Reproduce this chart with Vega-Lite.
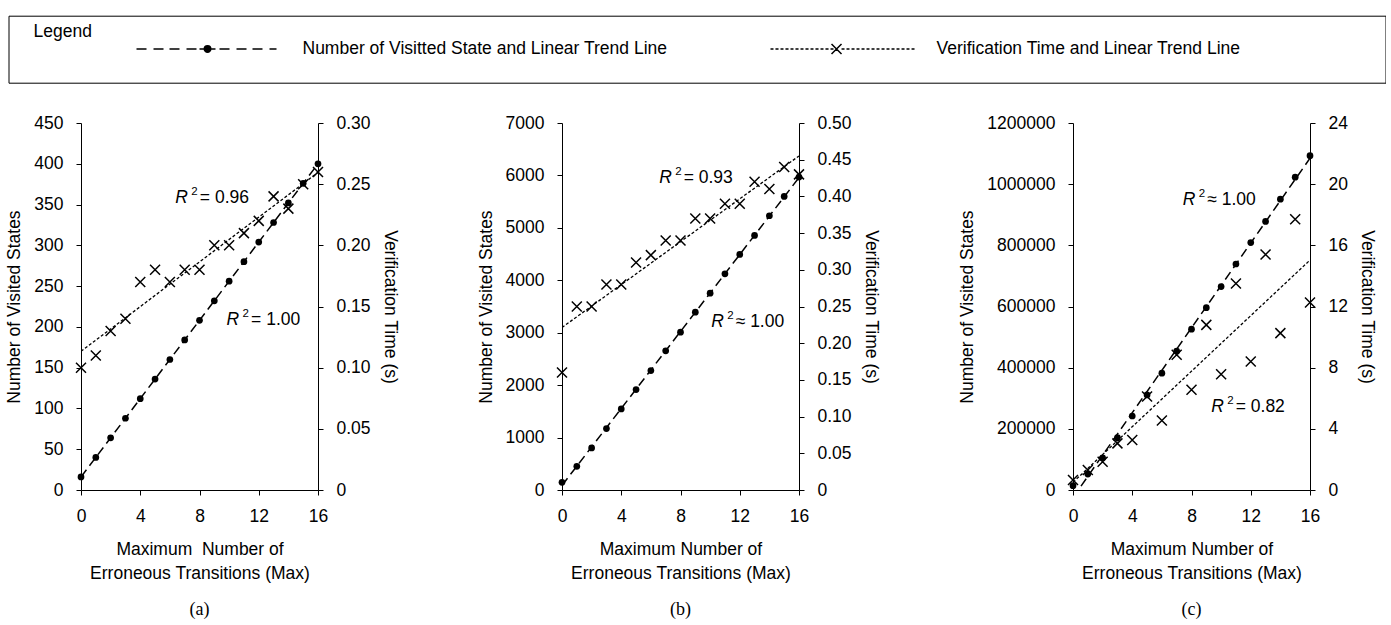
{
  "$schema": "https://vega.github.io/schema/vega-lite/v6.json",
  "background": "white",
  "padding": {"left": 5, "top": 15, "right": 0, "bottom": 0},
  "datasets": {
    "a": [
      {"max": 0, "states": 16, "time": 0.10},
      {"max": 1, "states": 40, "time": 0.11},
      {"max": 2, "states": 64, "time": 0.13},
      {"max": 3, "states": 88, "time": 0.14},
      {"max": 4, "states": 112, "time": 0.17},
      {"max": 5, "states": 136, "time": 0.18},
      {"max": 6, "states": 160, "time": 0.17},
      {"max": 7, "states": 184, "time": 0.18},
      {"max": 8, "states": 208, "time": 0.18},
      {"max": 9, "states": 232, "time": 0.20},
      {"max": 10, "states": 256, "time": 0.20},
      {"max": 11, "states": 280, "time": 0.21},
      {"max": 12, "states": 304, "time": 0.22},
      {"max": 13, "states": 328, "time": 0.24},
      {"max": 14, "states": 352, "time": 0.23},
      {"max": 15, "states": 376, "time": 0.25},
      {"max": 16, "states": 400, "time": 0.26}
    ],
    "b": [
      {"max": 0, "states": 146, "time": 0.16},
      {"max": 1, "states": 452, "time": 0.25},
      {"max": 2, "states": 802, "time": 0.25},
      {"max": 3, "states": 1171, "time": 0.28},
      {"max": 4, "states": 1546, "time": 0.28},
      {"max": 5, "states": 1915, "time": 0.31},
      {"max": 6, "states": 2278, "time": 0.32},
      {"max": 7, "states": 2654, "time": 0.34},
      {"max": 8, "states": 3010, "time": 0.34},
      {"max": 9, "states": 3392, "time": 0.37},
      {"max": 10, "states": 3755, "time": 0.37},
      {"max": 11, "states": 4124, "time": 0.39},
      {"max": 12, "states": 4493, "time": 0.39},
      {"max": 13, "states": 4856, "time": 0.42},
      {"max": 14, "states": 5231, "time": 0.41},
      {"max": 15, "states": 5600, "time": 0.44},
      {"max": 16, "states": 5969, "time": 0.43}
    ],
    "c": [
      {"max": 0, "states": 14000, "time": 0.65},
      {"max": 1, "states": 52000, "time": 1.31},
      {"max": 2, "states": 105000, "time": 1.85},
      {"max": 3, "states": 171000, "time": 3.05},
      {"max": 4, "states": 242000, "time": 3.27},
      {"max": 5, "states": 311000, "time": 6.11},
      {"max": 6, "states": 382000, "time": 4.54},
      {"max": 7, "states": 454000, "time": 8.84},
      {"max": 8, "states": 526000, "time": 6.55},
      {"max": 9, "states": 596000, "time": 10.8},
      {"max": 10, "states": 665000, "time": 7.57},
      {"max": 11, "states": 739000, "time": 13.5},
      {"max": 12, "states": 809000, "time": 8.4},
      {"max": 13, "states": 878000, "time": 15.4},
      {"max": 14, "states": 951000, "time": 10.26},
      {"max": 15, "states": 1023000, "time": 17.7},
      {"max": 16, "states": 1093000, "time": 12.26}
    ]
  },
  "config": {
    "font": "Liberation Sans",
    "view": {"stroke": null},
    "axis": {
      "grid": false, "domainColor": "black", "tickColor": "black", "labelColor": "black", "titleColor": "black",
      "labelFont": "Liberation Sans", "titleFont": "Liberation Sans", "labelFontSize": 17.5, "titleFontSize": 17.5,
      "titleFontWeight": "normal", "tickSize": 5, "labelPadding": 13, "domainWidth": 1, "tickWidth": 1,
      "titlePadding": 10, "labelFlush": false, "labelOverlap": false
    },
    "axisX": {"labelPadding": 12, "titlePadding": 16, "titleLineHeight": 24},
    "text": {"font": "Liberation Sans", "color": "black"}
  },
  "spacing": 78,
  "hconcat": [
    {
      "width": 237, "height": 367,
      "title": {"text": "(a)", "orient": "bottom", "frame": "group", "anchor": "middle", "font": "Liberation Serif", "fontSize": 18, "fontWeight": "normal", "color": "black", "offset": 19, "baseline": "top"},
      "data": {"name": "a"},
      "encoding": {"x": {"field": "max", "type": "quantitative", "scale": {"domain": [0, 16], "nice": false}, "axis": {"values": [0, 4, 8, 12, 16], "title": ["Maximum\u00a0 Number of", "Erroneous Transitions (Max)"]}}},
      "layer": [
        {
          "encoding": {"y": {"field": "states", "type": "quantitative", "scale": {"domain": [0, 450], "nice": false}, "axis": {"orient": "left", "values": [0, 50, 100, 150, 200, 250, 300, 350, 400, 450], "title": "Number of Visited States"}}},
          "layer": [
            {"transform": [{"regression": "states", "on": "max"}], "mark": {"type": "line", "clip": true, "color": "black", "strokeWidth": 1.5, "strokeDash": [9, 5]}},
            {"mark": {"type": "point", "filled": true, "shape": "circle", "color": "black", "size": 45, "opacity": 1}},
            {"data": {"values": [{}]},
             "mark": {"type": "point", "clip": true, "filled": false, "color": "black", "strokeWidth": 1.5, "opacity": 1},
             "encoding": {"x": {"datum": -50}, "y": {"datum": 0},
               "shape": {"datum": "states", "type": "nominal",
               "scale": {"domain": ["states", "time"], "range": [
                 "M-1,0L-0.863,0M-0.767,0L-0.63,0M-0.548,0L-0.411,0M-0.315,0L-0.178,0M-0.137,0L0.082,0M0.137,0L0.274,0M0.37,0L0.507,0M0.589,0L0.726,0M0.822,0L0.918,0M-0.0373,0A0.0103,0.0103,0,1,0,-0.0167,0A0.0103,0.0103,0,1,0,-0.0373,0M-0.0544,0A0.0274,0.0274,0,1,0,0.0004,0A0.0274,0.0274,0,1,0,-0.0544,0M-0.0715,0A0.0445,0.0445,0,1,0,0.0175,0A0.0445,0.0445,0,1,0,-0.0715,0",
                 "M7.03,0M-1,0L-0.959,0M-0.932,0L-0.89,0M-0.863,0L-0.822,0M-0.795,0L-0.753,0M-0.726,0L-0.685,0M-0.658,0L-0.616,0M-0.589,0L-0.548,0M-0.521,0L-0.479,0M-0.452,0L-0.411,0M-0.384,0L-0.342,0M-0.315,0L-0.274,0M-0.247,0L-0.205,0M-0.178,0L-0.137,0M-0.027,0L0.014,0M0.041,0L0.082,0M0.11,0L0.151,0M0.178,0L0.219,0M0.247,0L0.288,0M0.315,0L0.356,0M0.384,0L0.425,0M0.452,0L0.493,0M0.521,0L0.562,0M0.589,0L0.63,0M0.658,0L0.699,0M0.726,0L0.767,0M0.795,0L0.836,0M0.863,0L0.904,0M0.932,0L0.973,0M-0.164,-0.068L-0.027,0.068M-0.164,0.068L-0.027,-0.068"
               ]},
               "legend": {
                 "orient": "none", "legendX": -72.5, "legendY": -107.3, "direction": "horizontal",
                 "title": "Legend", "titleFont": "Liberation Sans", "titleFontSize": 17.5, "titleFontWeight": "normal", "titleColor": "black",
                 "titleAnchor": "start", "titleBaseline": "bottom", "titlePadding": -83.5,
                 "labelFont": "Liberation Sans", "labelFontSize": 17.5, "labelColor": "black", "labelLimit": 2000,
                 "labelExpr": "datum.value === 'states' ? 'Number of Visitted State and Linear Trend Line' : 'Verification Time and Linear Trend Line'",
                 "labelOffset": 19, "symbolOffset": 102, "symbolSize": 21316, "symbolStrokeWidth": 1.5, "symbolOpacity": 1,
                 "columnPadding": 0, "padding": 25, "strokeColor": "black"
               }}}},
            {"data": {"values": [{"max": 9.83, "states": 208.6}]},
             "layer": [
               {"mark": {"type": "text", "text": "R", "fontStyle": "italic", "fontSize": 17.5, "align": "left", "baseline": "middle"}},
               {"mark": {"type": "text", "text": "2", "fontSize": 11.5, "align": "left", "baseline": "middle", "dx": 16, "dy": -6}},
               {"mark": {"type": "text", "text": "= 1.00", "fontSize": 17.5, "align": "left", "baseline": "middle", "dx": 24.5}}
             ]}
          ]
        },
        {
          "encoding": {"y": {"field": "time", "type": "quantitative", "scale": {"domain": [0, 0.3], "nice": false}, "axis": {"orient": "right", "values": [0, 0.05, 0.1, 0.15, 0.2, 0.25, 0.3], "labelExpr": "datum.value === 0 ? '0' : format(datum.value, '.2f')", "title": "Verification Time (s)"}}},
          "layer": [
            {"transform": [{"regression": "time", "on": "max"}], "mark": {"type": "line", "clip": true, "color": "black", "strokeWidth": 1.3, "strokeDash": [3, 2]}},
            {"mark": {"type": "point", "filled": false, "shape": "M-1,-1L1,1M-1,1L1,-1", "color": "black", "strokeWidth": 1.5, "size": 100, "opacity": 1}},
            {"data": {"values": [{"max": 6.37, "time": 0.239}]},
             "layer": [
               {"mark": {"type": "text", "text": "R", "fontStyle": "italic", "fontSize": 17.5, "align": "left", "baseline": "middle"}},
               {"mark": {"type": "text", "text": "2", "fontSize": 11.5, "align": "left", "baseline": "middle", "dx": 16, "dy": -6}},
               {"mark": {"type": "text", "text": "= 0.96", "fontSize": 17.5, "align": "left", "baseline": "middle", "dx": 24.5}}
             ]}
          ]
        }
      ],
      "resolve": {"scale": {"y": "independent"}}
    },
    {
      "width": 237, "height": 367,
      "title": {"text": "(b)", "orient": "bottom", "frame": "group", "anchor": "middle", "font": "Liberation Serif", "fontSize": 18, "fontWeight": "normal", "color": "black", "offset": 19, "baseline": "top"},
      "data": {"name": "b"},
      "encoding": {"x": {"field": "max", "type": "quantitative", "scale": {"domain": [0, 16], "nice": false}, "axis": {"values": [0, 4, 8, 12, 16], "title": ["Maximum Number of", "Erroneous Transitions (Max)"]}}},
      "layer": [
        {
          "encoding": {"y": {"field": "states", "type": "quantitative", "scale": {"domain": [0, 7000], "nice": false}, "axis": {"orient": "left", "values": [0, 1000, 2000, 3000, 4000, 5000, 6000, 7000], "format": "d", "title": "Number of Visited States"}}},
          "layer": [
            {"transform": [{"regression": "states", "on": "max"}], "mark": {"type": "line", "clip": true, "color": "black", "strokeWidth": 1.5, "strokeDash": [9, 5]}},
            {"mark": {"type": "point", "filled": true, "shape": "circle", "color": "black", "size": 45, "opacity": 1}},
            {"data": {"values": [{"max": 10.07, "states": 3213}]},
             "layer": [
               {"mark": {"type": "text", "text": "R", "fontStyle": "italic", "fontSize": 17.5, "align": "left", "baseline": "middle"}},
               {"mark": {"type": "text", "text": "2", "fontSize": 11.5, "align": "left", "baseline": "middle", "dx": 16, "dy": -6}},
               {"mark": {"type": "text", "text": "≈ 1.00", "fontSize": 17.5, "align": "left", "baseline": "middle", "dx": 24.5}}
             ]}
          ]
        },
        {
          "encoding": {"y": {"field": "time", "type": "quantitative", "scale": {"domain": [0, 0.5], "nice": false}, "axis": {"orient": "right", "values": [0, 0.05, 0.1, 0.15, 0.2, 0.25, 0.3, 0.35, 0.4, 0.45, 0.5], "labelExpr": "datum.value === 0 ? '0' : format(datum.value, '.2f')", "title": "Verification Time (s)"}}},
          "layer": [
            {"transform": [{"regression": "time", "on": "max"}], "mark": {"type": "line", "clip": true, "color": "black", "strokeWidth": 1.3, "strokeDash": [3, 2]}},
            {"mark": {"type": "point", "filled": false, "shape": "M-1,-1L1,1M-1,1L1,-1", "color": "black", "strokeWidth": 1.5, "size": 100, "opacity": 1}},
            {"data": {"values": [{"max": 6.56, "time": 0.425}]},
             "layer": [
               {"mark": {"type": "text", "text": "R", "fontStyle": "italic", "fontSize": 17.5, "align": "left", "baseline": "middle"}},
               {"mark": {"type": "text", "text": "2", "fontSize": 11.5, "align": "left", "baseline": "middle", "dx": 16, "dy": -6}},
               {"mark": {"type": "text", "text": "= 0.93", "fontSize": 17.5, "align": "left", "baseline": "middle", "dx": 24.5}}
             ]}
          ]
        }
      ],
      "resolve": {"scale": {"y": "independent"}}
    },
    {
      "width": 237, "height": 367,
      "title": {"text": "(c)", "orient": "bottom", "frame": "group", "anchor": "middle", "font": "Liberation Serif", "fontSize": 18, "fontWeight": "normal", "color": "black", "offset": 19, "baseline": "top"},
      "data": {"name": "c"},
      "encoding": {"x": {"field": "max", "type": "quantitative", "scale": {"domain": [0, 16], "nice": false}, "axis": {"values": [0, 4, 8, 12, 16], "title": ["Maximum Number of", "Erroneous Transitions (Max)"]}}},
      "layer": [
        {
          "encoding": {"y": {"field": "states", "type": "quantitative", "scale": {"domain": [0, 1200000], "nice": false}, "axis": {"orient": "left", "values": [0, 200000, 400000, 600000, 800000, 1000000, 1200000], "format": "d", "title": "Number of Visited States"}}},
          "layer": [
            {"transform": [{"regression": "states", "on": "max"}], "mark": {"type": "line", "clip": true, "color": "black", "strokeWidth": 1.5, "strokeDash": [9, 5]}},
            {"mark": {"type": "point", "filled": true, "shape": "circle", "color": "black", "size": 45, "opacity": 1}},
            {"data": {"values": [{"max": 7.41, "states": 949000}]},
             "layer": [
               {"mark": {"type": "text", "text": "R", "fontStyle": "italic", "fontSize": 17.5, "align": "left", "baseline": "middle"}},
               {"mark": {"type": "text", "text": "2", "fontSize": 11.5, "align": "left", "baseline": "middle", "dx": 16, "dy": -6}},
               {"mark": {"type": "text", "text": "≈ 1.00", "fontSize": 17.5, "align": "left", "baseline": "middle", "dx": 24.5}}
             ]}
          ]
        },
        {
          "encoding": {"y": {"field": "time", "type": "quantitative", "scale": {"domain": [0, 24], "nice": false}, "axis": {"orient": "right", "values": [0, 4, 8, 12, 16, 20, 24], "title": "Verification Time (s)"}}},
          "layer": [
            {"transform": [{"regression": "time", "on": "max"}], "mark": {"type": "line", "clip": true, "color": "black", "strokeWidth": 1.3, "strokeDash": [3, 2]}},
            {"mark": {"type": "point", "filled": false, "shape": "M-1,-1L1,1M-1,1L1,-1", "color": "black", "strokeWidth": 1.5, "size": 100, "opacity": 1}},
            {"data": {"values": [{"max": 9.33, "time": 5.45}]},
             "layer": [
               {"mark": {"type": "text", "text": "R", "fontStyle": "italic", "fontSize": 17.5, "align": "left", "baseline": "middle"}},
               {"mark": {"type": "text", "text": "2", "fontSize": 11.5, "align": "left", "baseline": "middle", "dx": 16, "dy": -6}},
               {"mark": {"type": "text", "text": "= 0.82", "fontSize": 17.5, "align": "left", "baseline": "middle", "dx": 24.5}}
             ]}
          ]
        }
      ],
      "resolve": {"scale": {"y": "independent"}}
    }
  ]
}
